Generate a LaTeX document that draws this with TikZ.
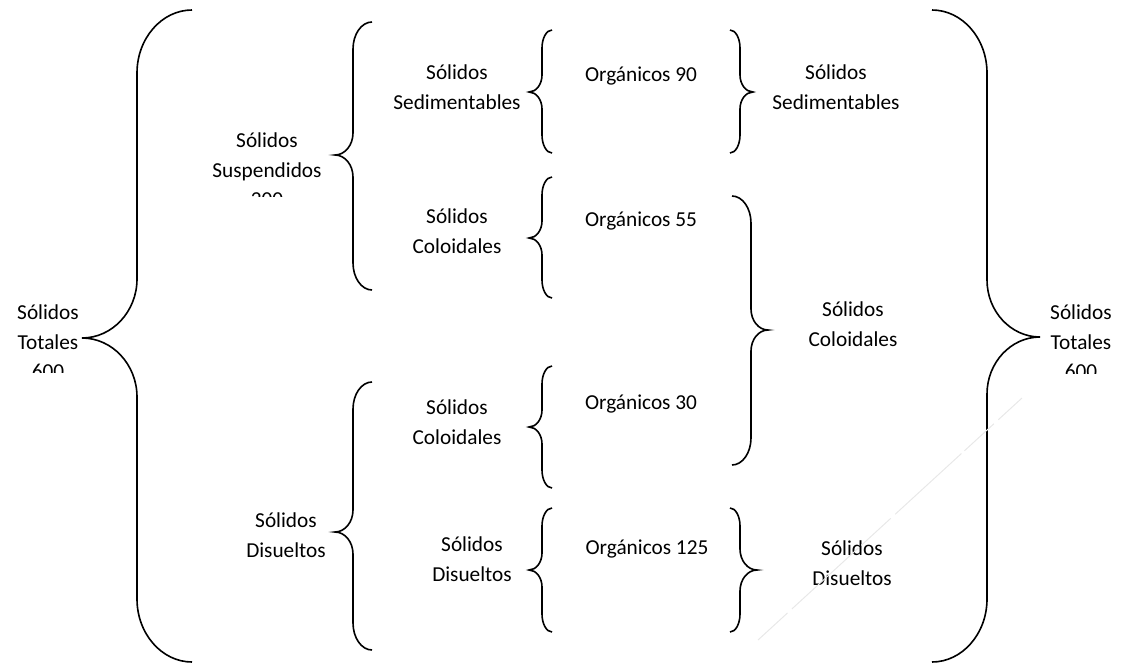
\documentclass[tikz,border=0pt]{standalone}
\usepackage{fontspec}
\setmainfont{Carlito}
\usepackage{tikz}

% llave: extremo, eje, punta, arriba, punta(y), abajo
\newcommand{\dibujarllave}[6]{%
  \draw[llave] (#1,#4) .. controls ({#1-0.55*(#1-#2)},#4) and (#2,{#4+0.45*(abs(#1-#2)+8)}) .. (#2,{#4+abs(#1-#2)+8})
    -- (#2,{#5-abs(#2-#3)-4}) .. controls (#2,{#5-0.45*(abs(#2-#3)+4)}) and ({#3+0.55*(#2-#3)},#5) .. (#3,#5)
    .. controls ({#3+0.55*(#2-#3)},#5) and (#2,{#5+0.45*(abs(#2-#3)+4)}) .. (#2,{#5+abs(#2-#3)+4})
    -- (#2,{#6-abs(#1-#2)-8}) .. controls (#2,{#6-0.45*(abs(#1-#2)+8)}) and ({#1-0.55*(#1-#2)},#6) .. (#1,#6);}

\begin{document}
\begin{tikzpicture}[x=1pt, y=-1pt,
                    texto/.style={align=center, inner sep=0pt, font=\fontsize{21.3}{29.5}\selectfont},
                    llave/.style={line width=1.6pt, black},
                    raya/.style={gray!18, line width=1pt, dash pattern=on 40pt off 6pt on 90pt off 4pt}]

	\useasboundingbox (0,0) rectangle (1124,664);

	% columna izquierda
	\begin{scope}
		\clip (0,280) rectangle (110,372);
		\node[texto] (TotIzq) at (48,342) {Sólidos\\Totales\\600};
	\end{scope}

	\begin{scope}
		\clip (200,110) rectangle (340,196);
		\node[texto] (SusIzq) at (267,170) {Sólidos\\Suspendidos\\200};
	\end{scope}

	\node[texto] (DisIzq) at (286,535) {Sólidos\\Disueltos};

	\node[texto] (SedIzq) at (457,87) {Sólidos\\Sedimentables};
	\node[texto] (ColSup) at (457,231) {Sólidos\\Coloidales};
	\node[texto] (ColInf) at (457,422) {Sólidos\\Coloidales};
	\node[texto] (DisInf) at (472,559) {Sólidos\\Disueltos};

	% centro
	\node[texto] (Org90) at (641,76) {Orgánicos 90};
	\node[texto] (Org55) at (641,221) {Orgánicos 55};
	\node[texto] (Org30) at (641,404) {Orgánicos 30};
	\node[texto] (Org125) at (647,549) {Orgánicos 125};

	% columna derecha
	\node[texto] (SedDer) at (836,87) {Sólidos\\Sedimentables};
	\node[texto] (ColDer) at (853,324) {Sólidos\\Coloidales};
	\node[texto] (DisDer) at (852,563) {Sólidos\\Disueltos};

	\begin{scope}
		\clip (1030,280) rectangle (1124,373);
		\node[texto] (TotDer) at (1081,342) {Sólidos\\Totales\\600};
	\end{scope}

	% llaves
	\dibujarllave{192}{137}{82}{10}{338}{662}
	\dibujarllave{372}{353}{335}{22}{155}{290}
	\dibujarllave{372}{353}{335}{382}{532}{650}

	\dibujarllave{552}{542}{529}{30}{92}{153}
	\dibujarllave{552}{542}{529}{177}{238}{298}
	\dibujarllave{552}{542}{529}{366}{427}{488}
	\dibujarllave{552}{542}{529}{508}{570}{632}

	\dibujarllave{730}{740}{753}{30}{92}{153}
	\dibujarllave{732}{751}{768}{196}{330}{465}
	\dibujarllave{730}{740}{757}{508}{570}{632}

	\dibujarllave{932}{987}{1040}{10}{337}{662}

	\draw[raya] (758,640) -- (1022,398);

\end{tikzpicture}
\end{document}
